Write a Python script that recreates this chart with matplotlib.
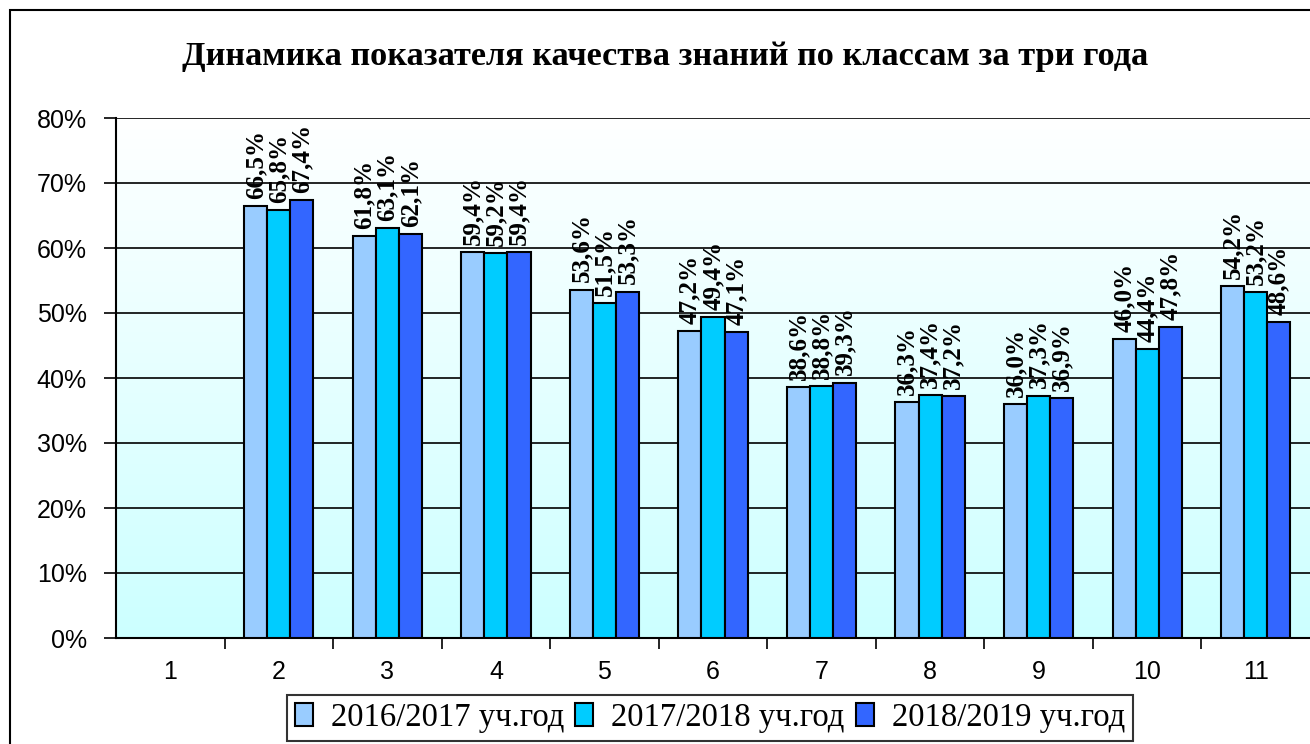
import numpy as np
import matplotlib.pyplot as plt
from matplotlib.patches import Rectangle
from matplotlib.ticker import FuncFormatter, FixedLocator

# data (class 1 has no values)
classes = ['1', '2', '3', '4', '5', '6', '7', '8', '9', '10', '11']
series_names = ['2016/2017 уч.год', '2017/2018 уч.год', '2018/2019 уч.год']
y2016 = [np.nan, 66.5, 61.8, 59.4, 53.6, 47.2, 38.6, 36.3, 36.0, 46.0, 54.2]
y2017 = [np.nan, 65.8, 63.1, 59.2, 51.5, 49.4, 38.8, 37.4, 37.3, 44.4, 53.2]
y2018 = [np.nan, 67.4, 62.1, 59.4, 53.3, 47.1, 39.3, 37.2, 36.9, 47.8, 48.6]
colors = ['#99ccff', '#00ccff', '#3366ff']

serif = ['Liberation Serif', 'DejaVu Serif']
sans = ['Liberation Sans', 'DejaVu Sans']

fig = plt.figure(figsize=(13.1, 7.44), dpi=100)
ax = fig.add_axes([116/1310, 1 - 638/744, 1 - 116/1310, (638 - 118)/744])

# outer chart frame (only left/top visible in the crop)
fig.patches.append(Rectangle((10/1310, -0.2), 1.2, 1.2 - 10/744,
                             transform=fig.transFigure, fill=False,
                             edgecolor='black', linewidth=1.5, clip_on=False))

x = np.arange(len(classes))
w = 0.213

# gradient background: white at top, pale cyan at bottom
grad = np.linspace(0, 1, 256).reshape(-1, 1)
top = np.array([1.0, 1.0, 1.0])
bot = np.array([0.80, 1.0, 1.0])
img = top * (1 - grad[..., None]) + bot * grad[..., None]
ax.imshow(img, extent=[-0.5, len(classes) - 0.5, 0, 80], aspect='auto',
          origin='upper', zorder=0)

for i, (vals, c, name) in enumerate(zip([y2016, y2017, y2018], colors, series_names)):
    pos = x + (i - 1) * w
    ax.bar(pos, vals, w, color=c, edgecolor='black', linewidth=1.5,
           label=name, zorder=3)
    for p, v in zip(pos, vals):
        if np.isnan(v):
            continue
        ax.text(p, v + 1.1, ('%.1f%%' % v).replace('.', ','), rotation=90,
                ha='center', va='bottom', fontsize=18, fontweight='bold',
                family=serif, zorder=4)

ax.set_xlim(-0.5, len(classes) - 0.5)
ax.set_ylim(0, 80)
ax.set_yticks(np.arange(0, 81, 10))
ax.yaxis.set_major_formatter(FuncFormatter(lambda v, p: '%d%%' % v))
ax.grid(axis='y', color='black', linewidth=1.2, zorder=1)
ax.set_axisbelow(True)

ax.set_xticks(x)
ax.set_xticklabels(classes)
ax.xaxis.set_minor_locator(FixedLocator(np.arange(0.5, len(classes) - 0.5, 1)))
ax.tick_params(axis='x', which='major', length=0, pad=16)
ax.tick_params(axis='x', which='minor', length=8, width=1.2, direction='out')
ax.tick_params(axis='y', length=9, width=1.2, direction='out', pad=12)
for lab in ax.get_xticklabels() + ax.get_yticklabels():
    lab.set_family(sans)
    lab.set_fontsize(18)

for s in ['top', 'right']:
    ax.spines[s].set_visible(False)
ax.spines['left'].set_linewidth(1.5)
ax.spines['bottom'].set_linewidth(1.5)

fig.text(665/1310, 1 - 57/744,
         'Динамика показателя качества знаний по классам за три года',
         ha='center', va='center', fontsize=24.7, fontweight='bold', family=serif)

leg = fig.legend(loc='center', bbox_to_anchor=(710/1310, 1 - 718/744), ncol=3,
                 frameon=True, fancybox=False, edgecolor='black',
                 prop={'family': serif, 'size': 23.5}, handlelength=0.55,
                 handleheight=0.7, handletextpad=0.55, columnspacing=0.35,
                 borderpad=0.25, borderaxespad=0)
leg.get_frame().set_linewidth(1.5)

fig.savefig('out.png', dpi=100)
